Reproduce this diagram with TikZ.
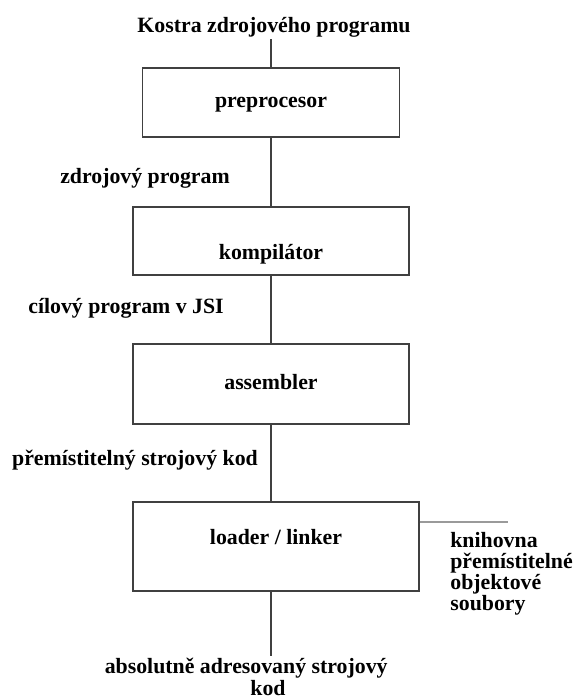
\documentclass[tikz,border=0pt]{standalone}
\usepackage{fontspec}
\setmainfont{Liberation Serif}
\usepackage{tikz}
\usetikzlibrary{positioning,calc}
\definecolor{ink}{HTML}{404040}
\definecolor{haze}{HTML}{9A9A9A}

\begin{document}
\begin{tikzpicture}[x=0.55pt,y=-0.55pt,
    font=\fontsize{12}{13.2}\selectfont\bfseries,
    stage/.style={draw=ink,line width=0.75pt,fill=white,inner sep=0pt,
                  text height=8pt,text depth=2.5pt},
    txt/.style={inner sep=1pt,anchor=base},
    wire/.style={draw=ink,line width=0.75pt}]
  \fill[white] (0,0) rectangle (572,699);
  \useasboundingbox (0,0) rectangle (572,699);
  \coordinate (spine) at (271,0);

  \node[txt] (title) at (274,32) {Kostra zdrojového programu};
  \node[stage,minimum width=141.35pt,minimum height=37.95pt] (prep) at (271,102.5) {preprocesor};
  \node[txt] (srcl) at (145,183) {zdrojový program};
  \node[stage,minimum width=151.8pt,minimum height=37.4pt,
        text height=19.8pt,text depth=0pt] (komp) at (271,241) {kompilátor};
  \node[txt] (jsil) at (126,313) {cílový program v JSI};
  \node[stage,minimum width=151.8pt,minimum height=44pt] (asm) at (271,384) {assembler};
  \node[txt] (reloc) at (135,465) {přemístitelný strojový kod};
  \node[stage,minimum width=157.3pt,minimum height=48.95pt,
        text height=8pt,text depth=10.75pt] (loader) at (276,546.5) {loader / linker};
  \node[inner sep=0pt,anchor=north west,align=left,
        font=\fontsize{12}{11.55}\selectfont\bfseries] (lib) at (450,532)
       {knihovna\\přemístitelné\\objektové\\soubory};
  \node[inner sep=1pt,anchor=north,align=center,
        font=\fontsize{12}{12.3}\selectfont\bfseries] (abs) at (268,656)
       {absolutně adresovaný strojový\hspace*{2em}\\kod};
  \coordinate (libend) at (508,522);

  \draw[wire] (spine |- title.south) -- (spine |- prep.north);
  \draw[wire] (spine |- prep.south) -- (spine |- komp.north);
  \draw[wire] (spine |- komp.south) -- (spine |- asm.north);
  \draw[wire] (spine |- asm.south) -- (spine |- loader.north);
  \draw[wire] (spine |- loader.south) -- (spine |- abs.north);
  \draw[draw=haze,line width=0.75pt] (loader.east |- libend) -- (libend);
\end{tikzpicture}
\end{document}
